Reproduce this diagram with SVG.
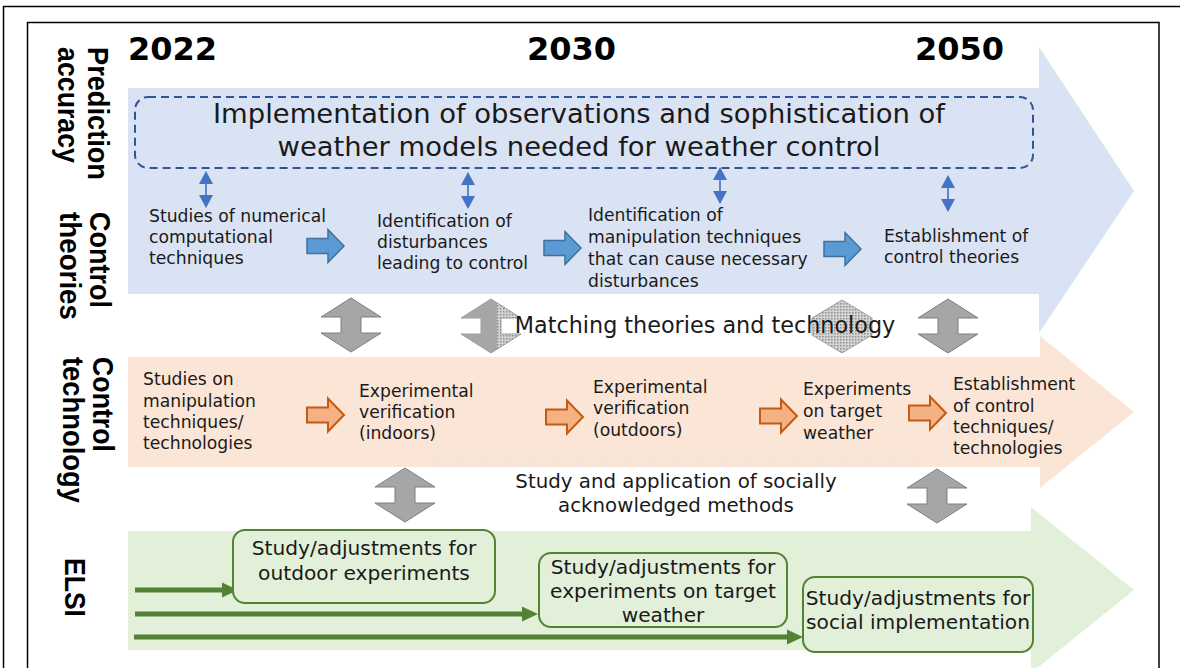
<svg xmlns="http://www.w3.org/2000/svg" xmlns:xlink="http://www.w3.org/1999/xlink" width="1180" height="668" viewBox="0 0 1180 668">
<style>
.lab{font-family:"Liberation Sans",Arial,sans-serif;font-weight:bold;font-size:30px;fill:#000}
.yr{font-family:"DejaVu Sans",Verdana,sans-serif;font-weight:bold;font-size:32px;fill:#000}
.t{font-family:"DejaVu Sans",Verdana,sans-serif;font-size:17.2px;fill:#1a1a1a}
.tc{font-family:"DejaVu Sans",Verdana,sans-serif;fill:#1a1a1a;text-anchor:middle}
.gt{font-size:20.2px}
.gbox{fill:#E2F0D9;stroke:#548235;stroke-width:2}
.gline{stroke:#548235;stroke-width:5;fill:none}
.barrow{fill:#5B9BD5;stroke:#41719C;stroke-width:1.5}
.oarrow{fill:#F4B183;stroke:#C55A11;stroke-width:2}
.grey{fill:#A6A6A6;stroke:#7F7F7F;stroke-width:1}
.sba{fill:#4472C4}
</style>
<defs>
<pattern id="stip" width="3" height="3" patternUnits="userSpaceOnUse">
<rect width="3" height="3" fill="#D4D4D4"/>
<rect width="1.5" height="1.5" fill="#8E8E8E"/>
</pattern>
<pattern id="faint" width="3" height="3" patternUnits="userSpaceOnUse">
<rect width="3" height="3" fill="#FBE5D6"/>
<rect width="1.5" height="1.5" fill="#EFE3DC"/>
</pattern>
<polygon id="dbl" points="0,0 30,19 10,19 10,35 30,35 0,54 -30,35 -10,35 -10,19 -30,19"/>
<path id="fat" d="M0,-7.5 H21 V-16.5 L37,0 L21,16.5 V7.5 H0 Z"/>
<g id="sdbl">
<polygon points="0,0 7,13 -7,13"/>
<rect x="-0.8" y="13" width="1.6" height="11"/>
<polygon points="0,37 7,24 -7,24"/>
</g>
<marker id="gh" markerUnits="userSpaceOnUse" markerWidth="16" markerHeight="16" viewBox="0 0 16 16" refX="0" refY="8" orient="auto">
<polygon points="0,0.5 16,8 0,15.5" fill="#548235"/>
</marker>
</defs>
<rect width="1180" height="668" fill="#fff"/>
<g id="frame" fill="none" stroke="#000" stroke-width="1.5">
<rect x="3.5" y="6.5" width="1200" height="700"/>
<rect x="27.5" y="22.5" width="1131.5" height="700"/>
</g>
<g id="bands">
<polygon points="128,88 1039,88 1039,47 1134,191 1039,333 1039,294 128,294" fill="#DAE3F3"/>
<polygon points="128,357 1040,357 1040,336 1134,412 1040,488 1040,467 128,467" fill="#FBE5D6"/>
<rect x="430" y="457" width="492" height="10" fill="url(#faint)"/>
<polygon points="128,531 1031,531 1031,507 1134,590 1031,673 1031,650 128,650" fill="#E2F0D9"/>
</g>
<g id="years">
<text class="yr" x="128" y="60">2022</text>
<text class="yr" x="527" y="60">2030</text>
<text class="yr" x="915" y="60">2050</text>
</g>
<g id="row-labels">
<g transform="translate(88,47) rotate(90)"><text class="lab" textLength="133" lengthAdjust="spacingAndGlyphs">Prediction</text></g>
<g transform="translate(58,47) rotate(90)"><text class="lab" textLength="116" lengthAdjust="spacingAndGlyphs">accuracy</text></g>
<g transform="translate(90,212) rotate(90)"><text class="lab" textLength="96" lengthAdjust="spacingAndGlyphs">Control</text></g>
<g transform="translate(60,212) rotate(90)"><text class="lab" textLength="108" lengthAdjust="spacingAndGlyphs">theories</text></g>
<g transform="translate(93,357) rotate(90)"><text class="lab" textLength="95" lengthAdjust="spacingAndGlyphs">Control</text></g>
<g transform="translate(63,357) rotate(90)"><text class="lab" textLength="146" lengthAdjust="spacingAndGlyphs">technology</text></g>
<g transform="translate(65,558) rotate(90)"><text class="lab" textLength="59" lengthAdjust="spacingAndGlyphs">ELSI</text></g>
</g>
<g id="prediction">
<rect x="135" y="97" width="898" height="71" rx="13" fill="none" stroke="#2F5597" stroke-width="2" stroke-dasharray="8,5"/>
<text class="tc" x="579" y="123" font-size="27.4">Implementation of observations and sophistication of</text>
<text class="tc" x="579" y="156" font-size="27.4">weather models needed for weather control</text>
</g>
<g id="theory-links" class="sba">
<use xlink:href="#sdbl" x="206" y="171"/>
<use xlink:href="#sdbl" x="468" y="172"/>
<use xlink:href="#sdbl" x="720" y="167"/>
<use xlink:href="#sdbl" x="948" y="175"/>
</g>
<g id="ct1"><text class="t" x="149" y="222">Studies of numerical</text><text class="t" x="149" y="243">computational</text><text class="t" x="149" y="264">techniques</text></g>
<g id="ct2"><text class="t" x="377" y="227">Identification of</text><text class="t" x="377" y="248">disturbances</text><text class="t" x="377" y="269">leading to control</text></g>
<g id="ct3"><text class="t" x="588" y="221">Identification of</text><text class="t" x="588" y="243">manipulation techniques</text><text class="t" x="588" y="265">that can cause necessary</text><text class="t" x="588" y="287">disturbances</text></g>
<g id="ct4"><text class="t" x="884" y="242">Establishment of</text><text class="t" x="884" y="263">control theories</text></g>
<g id="ctech1"><text class="t" x="143" y="385">Studies on</text><text class="t" x="143" y="407">manipulation</text><text class="t" x="143" y="428">techniques/</text><text class="t" x="143" y="449">technologies</text></g>
<g id="ctech2"><text class="t" x="359" y="397">Experimental</text><text class="t" x="359" y="418">verification</text><text class="t" x="359" y="439">(indoors)</text></g>
<g id="ctech3"><text class="t" x="593" y="393">Experimental</text><text class="t" x="593" y="414">verification</text><text class="t" x="593" y="436">(outdoors)</text></g>
<g id="ctech4"><text class="t" x="803" y="395">Experiments</text><text class="t" x="803" y="417">on target</text><text class="t" x="803" y="439">weather</text></g>
<g id="ctech5"><text class="t" x="953" y="390">Establishment</text><text class="t" x="953" y="412">of control</text><text class="t" x="953" y="433">techniques/</text><text class="t" x="953" y="454">technologies</text></g>
<g id="connectors">
<use xlink:href="#fat" class="barrow" x="307" y="246"/>
<use xlink:href="#fat" class="barrow" x="544" y="248"/>
<use xlink:href="#fat" class="barrow" x="824" y="249"/>
<use xlink:href="#fat" class="oarrow" x="307" y="415"/>
<use xlink:href="#fat" class="oarrow" x="546" y="417"/>
<use xlink:href="#fat" class="oarrow" x="760" y="416"/>
<use xlink:href="#fat" class="oarrow" x="909" y="413"/>
<use xlink:href="#dbl" class="grey" x="351" y="298"/>
<use xlink:href="#dbl" x="491" y="299" fill="url(#stip)" stroke="#9A9A9A" stroke-width="1"/>
<polygon points="491,299 497,303 497,349 491,353 461,334 481,334 481,318 461,318" fill="#A6A6A6"/>
<polygon points="842,300 872,318 872,335 842,353 812,335 812,318" fill="url(#stip)" stroke="#A0A0A0" stroke-width="1"/>
<use xlink:href="#dbl" class="grey" x="948" y="299"/>
<use xlink:href="#dbl" class="grey" x="405" y="468"/>
<use xlink:href="#dbl" class="grey" x="937" y="469"/>
<line class="gline" x1="135" y1="590" x2="222" y2="590" marker-end="url(#gh)"/>
<line class="gline" x1="135" y1="614" x2="522" y2="614" marker-end="url(#gh)"/>
<line class="gline" x1="134" y1="637" x2="787" y2="637" marker-end="url(#gh)"/>
</g>
<g id="matching"><text class="tc" x="705" y="333" font-size="22.3">Matching theories and technology</text></g>
<g id="social"><text class="tc" x="676" y="488" font-size="19.8">Study and application of socially</text><text class="tc" x="676" y="512" font-size="19.8">acknowledged methods</text></g>
<g id="elsi1"><rect class="gbox" x="233" y="530" width="262" height="73" rx="12"/><text class="tc gt" x="364" y="555">Study/adjustments for</text><text class="tc gt" x="364" y="580">outdoor experiments</text></g>
<g id="elsi2"><rect class="gbox" x="539" y="553" width="248" height="74" rx="12"/><text class="tc gt" x="663" y="574">Study/adjustments for</text><text class="tc gt" x="663" y="598">experiments on target</text><text class="tc gt" x="663" y="622">weather</text></g>
<g id="elsi3"><rect class="gbox" x="803" y="577" width="230" height="75" rx="12"/><text class="tc gt" x="918" y="605">Study/adjustments for</text><text class="tc gt" x="918" y="629">social implementation</text></g>
</svg>
